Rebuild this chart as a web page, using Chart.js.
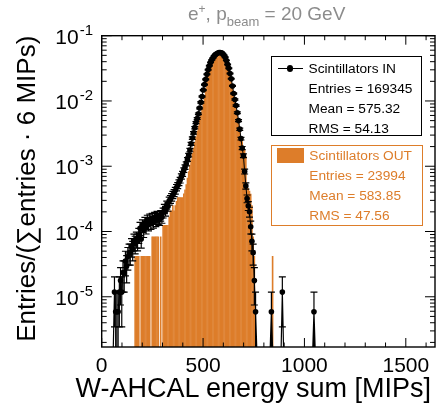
<!DOCTYPE html>
<html>
<head>
<meta charset="utf-8">
<script src="https://cdn.jsdelivr.net/npm/chart.js@4.4.1/dist/chart.umd.min.js"></script>
<style>
  body { margin: 0; background: #fff; }
  #wrap { position: relative; width: 442px; height: 412px; font-family: 'Liberation Sans', Arial, Helvetica, sans-serif; }
  #c { position: absolute; left: 0; top: 0; }
  .abs { position: absolute; white-space: nowrap; }
  .row { position: absolute; white-space: nowrap; font-size: 13.7px; line-height: 20px; }
</style>
</head>
<body>
<div id="wrap">
  <canvas id="c" width="442" height="412"></canvas>

  <div class="abs" style="left:188px;top:4px;font-size:19px;line-height:19px;color:#8c8c8c">e<span style="position:relative;top:-7px;font-size:12px">+</span>, p<span style="position:relative;top:6px;font-size:13px">beam</span> = 20 GeV</div>

  <!-- x axis title, right aligned like ROOT -->
  <div class="abs" style="right:11px;top:375.4px;font-size:27px;line-height:27px;color:#000">W-AHCAL energy sum [MIPs]</div>

  <!-- legend: scintillators in -->
  <div class="abs" style="left:271px;top:56px;width:151px;height:80px;border:1.5px solid #000;box-sizing:border-box"></div>
  <div class="abs" style="left:278px;top:68px;width:25px;height:1px;background:#000"></div>
  <div class="abs" style="left:287px;top:65.3px;width:6.4px;height:6.4px;border-radius:50%;background:#000"></div>
  <div class="row" style="left:308.5px;top:58.7px">Scintillators IN</div>
  <div class="row" style="left:308.5px;top:78.7px">Entries = 169345</div>
  <div class="row" style="left:308.5px;top:98.7px">Mean = 575.32</div>
  <div class="row" style="left:308.5px;top:118.7px">RMS = 54.13</div>

  <!-- legend: scintillators out -->
  <div class="abs" style="left:271px;top:144.5px;width:151.5px;height:81px;border:1.2px solid #dd7d2a;box-sizing:border-box"></div>
  <div class="abs" style="left:277.3px;top:148.3px;width:26.7px;height:14.4px;background:#dd7d2a"></div>
  <div class="row" style="left:309.3px;top:146.2px;color:#dd7d2a">Scintillators OUT</div>
  <div class="row" style="left:309.3px;top:166.2px;color:#dd7d2a">Entries = 23994</div>
  <div class="row" style="left:309.3px;top:186.2px;color:#dd7d2a">Mean = 583.85</div>
  <div class="row" style="left:309.3px;top:206.3px;color:#dd7d2a">RMS = 47.56</div>
</div>

<script>
// energy sum, bin centres in MIPs (6 MIP bins)

const inBins = [
  63, 69, 75, 81, 87, 93, 99, 105, 111, 117, 123, 129, 135, 141, 147, 153, 159, 165, 171, 177,
  183, 189, 195, 201, 207, 213, 219, 225, 231, 237, 243, 249, 255, 261, 267, 273, 279, 285, 291, 297,
  303, 309, 315, 321, 327, 333, 339, 345, 351, 357, 363, 369, 375, 381, 387, 393, 399, 405, 411, 417,
  423, 429, 435, 441, 447, 453, 459, 465, 471, 477, 483, 489, 495, 501, 507, 513, 519, 525, 531, 537,
  543, 549, 555, 561, 567, 573, 579, 585, 591, 597, 603, 609, 615, 621, 627, 633, 639, 645, 651, 657,
  663, 669, 675, 681, 687, 693, 699, 705, 711, 717, 723, 729, 735, 741, 747, 753, 759,
  837, 891, 1047
];

const inValues = [
  1.18e-5, 5.9e-6, 5.9e-6, 5.9e-6, 1.18e-5, 1.77e-5, 1.18e-5, 2.36e-5, 2.36e-5, 3.54e-5,
  2.95e-5, 4.13e-5, 4.72e-5, 4.72e-5, 5.91e-5, 5.31e-5, 7.09e-5, 6.5e-5, 7.68e-5, 7.09e-5,
  8.86e-5, 1.12e-4, 7.68e-5, 1.24e-4, 1.06e-4, 1.36e-4, 1.18e-4, 1.48e-4, 1.3e-4, 1.54e-4,
  1.36e-4, 1.59e-4, 1.42e-4, 1.65e-4, 1.48e-4, 1.71e-4, 1.59e-4, 1.54e-4, 1.77e-4, 1.65e-4,
  1.95e-4, 2.24e-4, 2.07e-4, 2.54e-4, 2.42e-4, 2.95e-4, 3.13e-4, 3.37e-4, 3.66e-4, 3.9e-4,
  4.25e-4, 4.72e-4, 5.08e-4, 5.61e-4, 6.14e-4, 6.97e-4, 7.68e-4, 8.74e-4, 9.74e-4, 1.09e-3,
  1.27e-3, 1.48e-3, 1.77e-3, 2.2e-3, 2.7e-3, 3.25e-3, 3.9e-3, 4.65e-3, 5.4e-3, 6.35e-3,
  7.8e-3, 9.5e-3, 1.17e-2, 1.47e-2, 1.78e-2, 2.14e-2, 2.56e-2, 3.02e-2, 3.46e-2, 3.9e-2,
  4.27e-2, 4.58e-2, 4.9e-2, 5.13e-2, 5.3e-2, 5.43e-2, 5.52e-2, 5.54e-2, 5.47e-2, 5.31e-2,
  5.02e-2, 4.68e-2, 4.18e-2, 3.63e-2, 3.16e-2, 2.63e-2, 2.19e-2, 1.7e-2, 1.3e-2, 1.05e-2,
  8.5e-3, 6.6e-3, 5.0e-3, 3.7e-3, 2.65e-3, 1.9e-3, 1.45e-3, 8.3e-4, 5.0e-4, 3.19e-4,
  2.48e-4, 2.01e-4, 1.18e-4, 7.09e-5, 4.72e-5, 1.77e-5, 5.9e-6,
  5.9e-6, 1.18e-5, 5.9e-6
];

const outBins = [
  165, 171, 177, 183, 195, 201, 207, 213, 219, 225, 231, 237, 249, 255, 261, 267, 273, 279, 291,
  303, 309, 315, 321, 327, 333, 339, 345, 351, 357, 363, 369, 375, 381, 387, 393, 399,
  405, 411, 417, 423, 429, 435, 441, 447, 453, 459, 465, 471, 477, 483, 489, 495, 501, 507,
  513, 519, 525, 531, 537, 543, 549, 555, 561, 567, 573, 579, 585, 591, 597, 603, 609, 615,
  621, 627, 633, 639, 645, 651, 657, 663, 669, 675, 681, 687, 693, 699, 705, 711, 717, 723,
  729, 735, 741, 747, 753,
  843
];

const outValues = [
  4.17e-5, 4.17e-5, 4.17e-5, 4.17e-5, 4.17e-5, 4.17e-5, 4.17e-5, 4.17e-5, 4.17e-5, 4.17e-5,
  4.17e-5, 4.17e-5, 8.34e-5, 8.34e-5, 8.34e-5, 8.34e-5, 8.34e-5, 8.34e-5, 8.34e-5,
  1.25e-4, 1.25e-4, 1.25e-4, 1.25e-4, 1.25e-4, 1.67e-4, 2.08e-4, 2.08e-4, 2.5e-4, 2.08e-4,
  2.5e-4, 2.92e-4, 3.33e-4, 3.33e-4, 3.33e-4, 3.33e-4, 3.33e-4,
  3.8e-4, 4.37e-4, 5.25e-4, 6.6e-4, 8.3e-4, 1.05e-3, 1.26e-3, 1.58e-3, 1.91e-3, 2.34e-3,
  2.82e-3, 3.47e-3, 4.17e-3, 5.13e-3, 6.31e-3, 7.76e-3, 9.77e-3, 1.23e-2, 1.55e-2, 1.95e-2,
  2.4e-2, 2.95e-2, 3.55e-2, 4.17e-2, 4.68e-2, 5.2e-2, 5.52e-2, 5.7e-2, 5.8e-2, 5.85e-2,
  5.85e-2, 5.78e-2, 5.62e-2, 5.38e-2, 4.95e-2, 4.45e-2, 3.8e-2, 3.24e-2, 2.69e-2, 2.19e-2,
  1.74e-2, 1.35e-2, 1.05e-2, 8.13e-3, 6.31e-3, 4.79e-3, 3.55e-3, 2.82e-3, 2.4e-3, 2.0e-3,
  1.78e-3, 1.41e-3, 5.0e-4, 4.58e-4, 4.17e-4, 3.75e-4, 2.5e-4, 8.34e-5, 4.17e-5,
  4.17e-5
];

const inEntries = 169345;

const xTickLabels = ['0', '500', '1000', '1500'];
const yTickExponents = ['-1', '-2', '-3', '-4', '-5'];

const orange = '#dd7d2a';
const fontFamily = "'Liberation Sans', Arial, Helvetica, sans-serif";
Chart.defaults.font.family = fontFamily;

// poisson error bars for the scintillators-in points
const errorBars = {
  id: 'errorBars',
  afterDatasetsDraw(chart) {
    const {ctx, chartArea: a, scales: {x, y}} = chart;
    const meta = chart.getDatasetMeta(1);
    const binWidth = inBins[1] - inBins[0];
    ctx.save();
    ctx.beginPath();
    ctx.rect(a.left, a.top, a.width, a.height);
    ctx.clip();
    ctx.strokeStyle = '#000';
    ctx.lineWidth = 1.2;
    meta.data.forEach((pt, i) => {
      const v = inValues[i];
      const err = Math.sqrt(v / inEntries);
      const hi = y.getPixelForValue(v + err);
      const lo = v - err > y.min ? y.getPixelForValue(v - err) : a.bottom + 2;
      ctx.beginPath();
      ctx.moveTo(pt.x, hi);
      ctx.lineTo(pt.x, lo);
      ctx.moveTo(pt.x - 3.5, hi);
      ctx.lineTo(pt.x + 3.5, hi);
      if (lo < a.bottom) {
        ctx.moveTo(pt.x - 3.5, lo);
        ctx.lineTo(pt.x + 3.5, lo);
      }
      // empty neighbour bins are at zero, the line drops to the floor
      [-binWidth, binWidth].forEach(d => {
        if (inBins.indexOf(inBins[i] + d) < 0) {
          ctx.moveTo(pt.x, pt.y);
          ctx.lineTo(x.getPixelForValue(inBins[i] + d), a.bottom + 2);
        }
      });
      ctx.stroke();
    });
    ctx.restore();
  }
};

// frame with inside ticks on all four sides, plus the 10^n labels
const frame = {
  id: 'frame',
  afterDraw(chart) {
    const {ctx, chartArea: a, scales: {x, y}} = chart;
    ctx.save();
    ctx.strokeStyle = '#000';
    ctx.lineWidth = 1;
    ctx.beginPath();
    for (let v = x.min; v <= x.max; v += 100) {
      const px = x.getPixelForValue(v);
      const len = v % 500 === 0 ? 9 : 4.5;
      ctx.moveTo(px, a.bottom);
      ctx.lineTo(px, a.bottom - len);
      ctx.moveTo(px, a.top);
      ctx.lineTo(px, a.top + len);
    }
    for (let e = -6; e <= -1; e++) {
      for (let m = 1; m <= 9; m++) {
        const v = m * Math.pow(10, e);
        if (v < y.min || v > y.max) continue;
        const py = y.getPixelForValue(v);
        const len = m === 1 ? 10 : 5;
        ctx.moveTo(a.left, py);
        ctx.lineTo(a.left + len, py);
        ctx.moveTo(a.right, py);
        ctx.lineTo(a.right - len, py);
      }
    }
    ctx.stroke();
    ctx.lineWidth = 1.4;
    ctx.strokeRect(a.left, a.top, a.width, a.height);

    ctx.fillStyle = '#000';
    yTickExponents.forEach(ex => {
      const py = y.getPixelForValue(Math.pow(10, Number(ex)));
      ctx.font = '21px ' + fontFamily;
      ctx.textAlign = 'right';
      ctx.textBaseline = 'alphabetic';
      ctx.fillText('10', a.left - 23, py + 8);
      ctx.font = '15px ' + fontFamily;
      ctx.textAlign = 'left';
      ctx.fillText(ex, a.left - 22, py - 1);
    });
    ctx.restore();
  }
};

const data = {
  datasets: [{
    type: 'bar',
    label: 'Scintillators OUT',
    data: outBins.map((b, i) => ({x: b, y: outValues[i]})),
    backgroundColor: orange,
    borderWidth: 0,
    barPercentage: 1,
    categoryPercentage: 1,
    inflateAmount: 0.2,
    order: 2
  }, {
    type: 'line',
    label: 'Scintillators IN',
    data: inBins.map((b, i) => ({x: b, y: inValues[i]})),
    borderColor: '#000',
    borderWidth: 1,
    pointRadius: 2.8,
    pointBackgroundColor: '#000',
    pointBorderWidth: 0,
    spanGaps: 7,
    order: 1
  }]
};

const config = {
  type: 'bar',
  data: data,
  options: {
    responsive: false,
    animation: false,
    layout: { padding: { top: 35.7, right: 7, left: 0, bottom: 0 } },
    plugins: { legend: { display: false }, tooltip: { enabled: false } },
    scales: {
      x: {
        type: 'linear',
        min: 0,
        max: 1644,
        offset: false,
        grid: { display: false, drawTicks: false, offset: false },
        border: { display: false },
        afterBuildTicks: s => { s.ticks = xTickLabels.map(l => ({ value: Number(l) })); },
        ticks: {
          autoSkip: false,
          maxRotation: 0,
          padding: 7,
          color: '#000',
          font: { size: 21 },
          callback: v => String(v)
        },
        afterFit: s => { s.height = 65; }
      },
      y: {
        type: 'logarithmic',
        min: 1.7e-6,
        max: 0.1,
        grid: { display: false, drawTicks: false },
        border: { display: false },
        ticks: { display: false },
        title: {
          display: true,
          text: 'Entries/(\u2211entries \u00b7 6 MIPs)',
          align: 'end',
          color: '#000',
          font: { size: 26 },
          padding: { top: 12, bottom: 0 }
        },
        afterFit: s => { s.width = 101.7; }
      }
    }
  },
  plugins: [errorBars, frame]
};

const myChart = new Chart(document.getElementById('c'), config);
</script>
</body>
</html>
